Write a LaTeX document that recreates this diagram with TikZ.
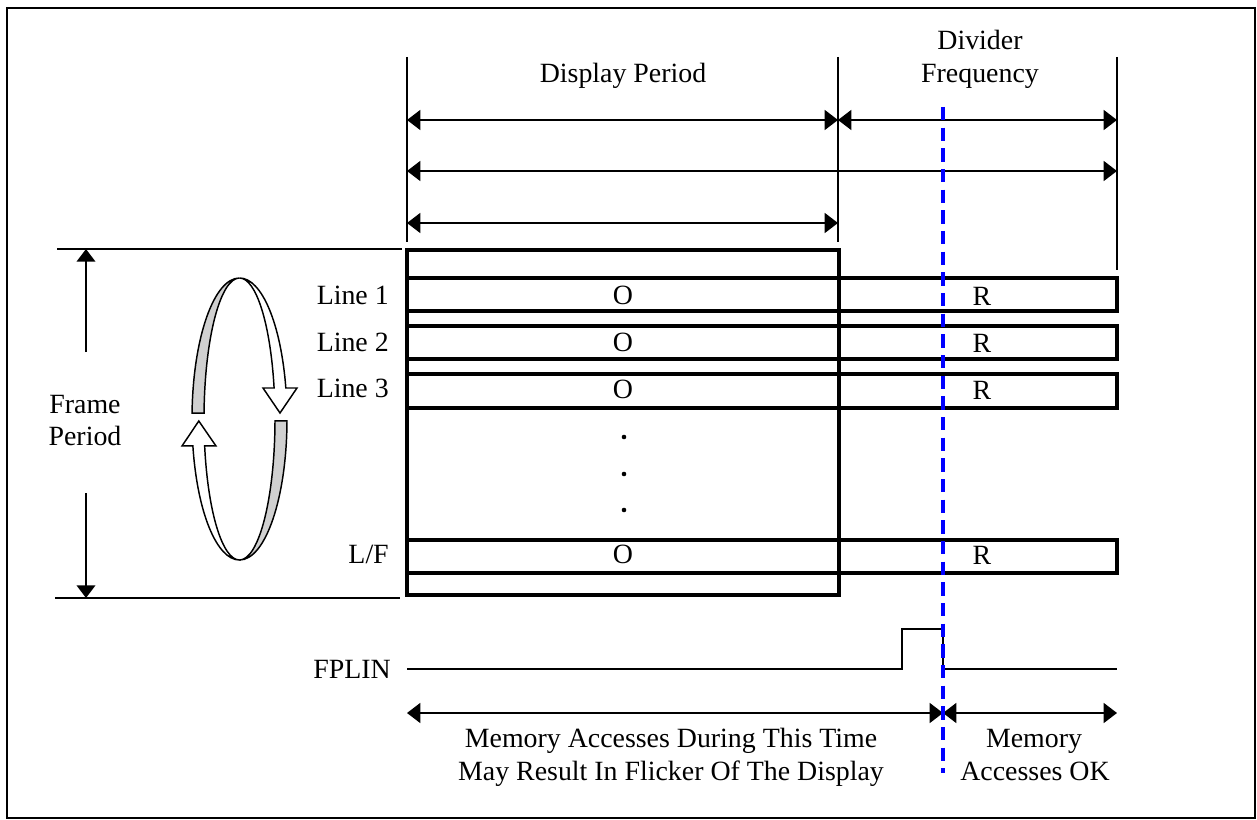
\documentclass[tikz,border=0pt]{standalone}
\usepackage{fontspec}
\setmainfont{Liberation Serif}
\usetikzlibrary{arrows.meta}

\definecolor{ringgray}{RGB}{208,208,208}
\definecolor{cutblue}{RGB}{0,0,255}

\tikzset{
  thinln/.style={line width=1.1pt},
  boxln/.style={line width=2.3pt},
  ringln/.style={line width=1.1pt},
  dimarr/.style={thinln,{Triangle[length=10pt,width=15pt]}-{Triangle[length=10pt,width=15pt]}},
  uparr/.style={thinln,-{Triangle[length=9.5pt,width=14pt]}},
  cutln/.style={cutblue,line width=2.5pt,dash pattern={on 10pt off 5.5pt}},
  txt/.style={inner sep=0.75pt,anchor=base,font=\fontsize{20.9}{24}\selectfont},
}

\begin{document}
\begin{tikzpicture}[x=0.75pt,y=0.75pt,yscale=-1,xscale=1]
\useasboundingbox (0,0) rectangle (1257,820);

%Shape: Frame
\draw [line width=1.5pt] (7,8) rectangle (1255,818);

%Straight Lines: ticks
\coordinate (tA) at (407,57);  \coordinate (tAb) at (407,242);
\coordinate (tB) at (838,57);  \coordinate (tBb) at (838,242);
\coordinate (tC) at (1117,57); \coordinate (tCb) at (1117,270);
\draw [thinln] (tA) -- (tAb);
\draw [thinln] (tB) -- (tBb);
\draw [thinln] (tC) -- (tCb);

%Straight Lines: period arrows
\coordinate (r1) at (0,120);
\coordinate (r2) at (0,171);
\coordinate (r3) at (0,223);
\draw [dimarr] (tA |- r1) -- (tB |- r1);
\draw [dimarr] (tB |- r1) -- (tC |- r1);
\draw [dimarr] (tA |- r2) -- (tC |- r2);
\draw [dimarr] (tA |- r3) -- (tB |- r3);

% Text Node
\node [txt] (disp) at (623,83) {Display Period};
\node [txt] (divd) at (980,50) {Divider};
\node [txt] (freq) at (980,83) {Frequency};

%Straight Lines: frame period
\coordinate (fpT) at (86,249);  \coordinate (fpTa) at (86,352);
\coordinate (fpB) at (86,598);  \coordinate (fpBa) at (86,493);
\draw [thinln] (57,249) -- (402,249);
\draw [thinln] (55,598) -- (400,598);
\draw [uparr] (fpTa) -- (fpT);
\draw [uparr] (fpBa) -- (fpB);
\node [txt] (frm) at (85,413) {Frame};
\node [txt] (per) at (85,445) {Period};

%Shape: Ring
\coordinate (ring) at (239.5,419);
\draw [ringln,fill=ringgray] (ring) ++(182.4:47.5 and 141) arc [start angle=182.4,end angle=270,x radius=47.5,y radius=141] arc [start angle=270,end angle=182.4,x radius=35.5,y radius=141] -- cycle;
\draw [ringln,fill=white] (ring) ++(270:47.5 and 141) arc [start angle=270,end angle=347.3,x radius=47.5,y radius=141] -- (297,388) -- (280,413) -- (263,388) -- (274.1,388) arc [start angle=347.3,end angle=270,x radius=35.5,y radius=141] -- cycle;
\draw [ringln,fill=ringgray] (ring) ++(0.8:47.5 and 141) arc [start angle=0.8,end angle=90,x radius=47.5,y radius=141] arc [start angle=90,end angle=0.8,x radius=35.5,y radius=141] -- cycle;
\draw [ringln,fill=white] (ring) ++(90:47.5 and 141) arc [start angle=90,end angle=169,x radius=47.5,y radius=141] -- (182,446) -- (198.8,421) -- (216,446) -- (204.65,445.9) arc [start angle=169,end angle=90,x radius=35.5,y radius=141] -- cycle;

%Shape: Display box and lines
\draw [boxln] (407,250) rectangle (839,595);
\draw [boxln] (407,278) rectangle (1117,311);
\draw [boxln] (407,326) rectangle (1117,359);
\draw [boxln] (407,374) rectangle (1117,408);
\draw [boxln] (407,540) rectangle (1117,573);

% Text Node
\node [txt,anchor=base east] (ln1) at (390,304) {Line 1};
\node [txt,anchor=base east] (ln2) at (390,351) {Line 2};
\node [txt,anchor=base east] (ln3) at (390,397) {Line 3};
\node [txt,anchor=base east] (lnf) at (390,563) {L/F};
\node [txt] (o1) at (623,304) {O};
\node [txt] (o2) at (623,351) {O};
\node [txt] (o3) at (623,398) {O};
\node [txt] (of) at (623,563) {O};
\node [txt] (rr1) at (982,305) {R};
\node [txt] (rr2) at (982,352) {R};
\node [txt] (rr3) at (982,399) {R};
\node [txt] (rrf) at (982,564) {R};

%Dots
\fill (624,437) circle [radius=2.3];
\fill (624,474) circle [radius=2.3];
\fill (624,510) circle [radius=2.3];

%Straight Lines: FPLIN
\coordinate (sigL) at (407,669);
\coordinate (sigR) at (1117,669);
\draw [line width=2.2pt] (sigL) -- (902,669) -- (902,629) -- (943,629) -- (943,669) -- (sigR);
\node [txt] (fplin) at (352,678) {FPLIN};

%Straight Lines: access arrows
\coordinate (mL) at (407,713);
\coordinate (mC) at (943,713);
\coordinate (mR) at (1117,713);
\draw [dimarr] (mL) -- (mC);
\draw [dimarr] (mC) -- (mR);
\node [txt] (acc1) at (671,747) {Memory Accesses During This Time};
\node [txt] (acc2) at (671,780) {May Result In Flicker Of The Display};
\node [txt] (ok1) at (1034,747) {Memory};
\node [txt] (ok2) at (1035,780) {Accesses OK};

%Straight Lines: cut
\coordinate (cut) at (943,107);
\coordinate (cutb) at (943,773);
\draw [cutln] (cut) -- (cutb);

\end{tikzpicture}
\end{document}
